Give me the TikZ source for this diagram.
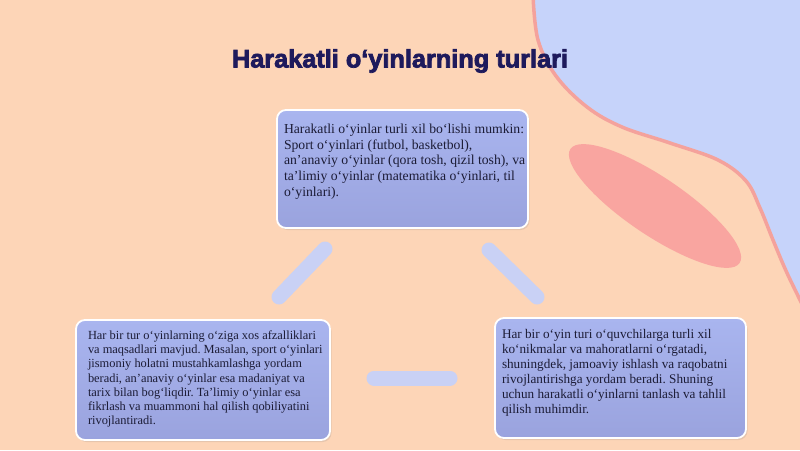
\documentclass[tikz,border=0pt]{standalone}
\usepackage{fontspec}
\setmainfont{Liberation Serif}
\newfontfamily\titlefont{Liberation Sans}[BoldFeatures={FakeBold=3}]
\usetikzlibrary{shadows}
\frenchspacing
\definecolor{bgpeach}{HTML}{FDD5B7}
\definecolor{bgblue}{HTML}{C6D3FA}
\definecolor{edgered}{HTML}{F4A29C}
\definecolor{blobpink}{HTML}{F9A5A0}
\definecolor{boxtop}{HTML}{A9B5EF}
\definecolor{boxbot}{HTML}{9AA3DE}
\definecolor{linkblue}{HTML}{C9D1F5}
\definecolor{titleblue}{HTML}{1E1A5C}
\definecolor{txt}{HTML}{1C1C36}
\begin{document}
\begin{tikzpicture}[x=1pt,y=-1pt,
  infobox/.style={rectangle, rounded corners=9pt, draw=white, line width=1.8pt,
    top color=boxtop, bottom color=boxbot, inner sep=0pt, text=txt,
    drop shadow={shadow xshift=1.5pt, shadow yshift=-2pt, opacity=0.18}},
  link/.style={draw=linkblue, line width=15pt, line cap=round}]
\useasboundingbox (0,0) rectangle (800,450);
\fill[bgpeach] (0,0) rectangle (800,450);
% blue region top right
\fill[bgblue] plot[smooth, tension=0.6] coordinates {(533,-5) (538,40) (556,76) (587,107) (622,127) (670,143) (718,160) (746,181) (760,208) (773,240) (787,273) (806,312)} -- (806,-5) -- cycle;
\draw[edgered, line width=3.5pt] plot[smooth, tension=0.6] coordinates {(533,-5) (538,40) (556,76) (587,107) (622,127) (670,143) (718,160) (746,181) (760,208) (773,240) (787,273) (806,312)};
% pink blob
\fill[blobpink, rotate around={-34:(655,206)}] (655,206) ellipse [x radius=102pt, y radius=29pt];
% title
\node[text=titleblue, font=\titlefont\bfseries\fontsize{25.3}{29}\selectfont] (title) at (400,61) {Harakatli o‘yinlarning turlari};
% boxes
\node[infobox, font=\fontsize{13.7}{15.7}\selectfont] (topbox) at (402.5,169) {%
  \parbox[c][118pt][t]{251pt}{\vspace*{14pt}\leftskip=7pt Harakatli o‘yinlar turli xil bo‘lishi mumkin:\\
  Sport o‘yinlari (futbol, basketbol),\\
  an'anaviy o‘yinlar (qora tosh, qizil tosh), va\\
  ta'limiy o‘yinlar (matematika o‘yinlari, til\\
  o‘yinlari).}};
\node[infobox, font=\fontsize{12.4}{14.1}\selectfont] (leftbox) at (203,380) {%
  \parbox[c][120pt][t]{254pt}{\vspace*{11pt}\leftskip=12pt Har bir tur o‘yinlarning o‘ziga xos afzalliklari\\
  va maqsadlari mavjud. Masalan, sport o‘yinlari\\
  jismoniy holatni mustahkamlashga yordam\\
  beradi, an'anaviy o‘yinlar esa madaniyat va\\
  tarix bilan bog‘liqdir. Ta'limiy o‘yinlar esa\\
  fikrlash va muammoni hal qilish qobiliyatini\\
  rivojlantiradi.}};
\node[infobox, font=\fontsize{13.2}{15}\selectfont] (rightbox) at (620.5,378) {%
  \parbox[c][120pt][t]{251pt}{\vspace*{11pt}\leftskip=7pt Har bir o‘yin turi o‘quvchilarga turli xil\\
  ko‘nikmalar va mahoratlarni o‘rgatadi,\\
  shuningdek, jamoaviy ishlash va raqobatni\\
  rivojlantirishga yordam beradi. Shuning\\
  uchun harakatli o‘yinlarni tanlash va tahlil\\
  qilish muhimdir.}};
% connectors
\coordinate (l1) at (325,249);
\coordinate (l2) at (279,297);
\coordinate (r1) at (489,250);
\coordinate (r2) at (537,297);
\coordinate (h1) at (374,378);
\coordinate (h2) at (450,378);
\draw[link] (l1) -- (l2);
\draw[link] (r1) -- (r2);
\draw[link] (h1) -- (h2);
\end{tikzpicture}
\end{document}
